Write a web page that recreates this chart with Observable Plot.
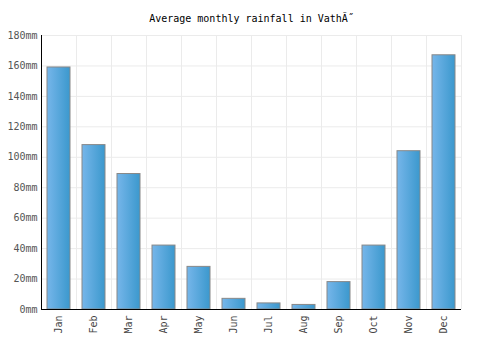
<!DOCTYPE html>
<html>
<head>
<meta charset="utf-8">
<script src="https://cdn.jsdelivr.net/npm/d3@7"></script>
<script src="https://cdn.jsdelivr.net/npm/@observablehq/plot@0.6"></script>
<style>
  html, body { margin: 0; padding: 0; background: #fff; }
  #chart svg { display: block; }
</style>
</head>
<body>
<div id="chart"></div>
<script>
const titleText = "Average monthly rainfall in VathÃ˝";
const months = ["Jan","Feb","Mar","Apr","May","Jun","Jul","Aug","Sep","Oct","Nov","Dec"];
const rainfall = [159, 108, 89, 42, 28, 7, 4, 3, 18, 42, 104, 167];
const yTicks = [0, 20, 40, 60, 80, 100, 120, 140, 160, 180];

const data = months.map((m, i) => ({month: m, value: rainfall[i]}));

const defs = () => {
  const g = d3.create("svg:defs");
  const lg = g.append("linearGradient").attr("id", "barGrad")
    .attr("x1", "0").attr("x2", "1").attr("y1", "0").attr("y2", "0");
  lg.append("stop").attr("offset", "0%").attr("stop-color", "#76b6ea");
  lg.append("stop").attr("offset", "100%").attr("stop-color", "#3b98cd");
  return g.node();
};

const chart = Plot.plot({
  width: 500,
  height: 350,
  marginLeft: 41,
  marginRight: 39,
  marginTop: 35,
  marginBottom: 41,
  style: {fontFamily: "'DejaVu Sans Mono', monospace", fontSize: "10px", background: "#fff"},
  x: {domain: months, paddingInner: 0.34, paddingOuter: 0.17, label: null},
  y: {domain: [0, 180], label: null},
  marks: [
    defs,
    Plot.gridY(yTicks, {stroke: "#ebebeb", strokeOpacity: 1}),
    Plot.gridX(months, {stroke: "#ebebeb", strokeOpacity: 1, dx: 17.5}),
    Plot.barY(data, {x: "month", y: "value", fill: "url(#barGrad)", stroke: "#888", strokeWidth: 1}),
    Plot.axisY(yTicks, {tickSize: 0, tickPadding: 4, tickFormat: d => d + "mm", fill: "#555", fontSize: 10}),
    Plot.axisX({tickSize: 0, tickRotate: -90, tickPadding: 6, fill: "#444", fontSize: 10}),
    Plot.ruleY([0], {stroke: "#000"}),
    Plot.ruleX([0], {x: () => months[0], dx: -17.5, stroke: "#000", y1: 0, y2: 180}),
    Plot.text([titleText], {frameAnchor: "top", lineAnchor: "middle", dy: -17, fontSize: 10, fill: "#000", text: d => d})
  ]
});
document.getElementById("chart").appendChild(chart);
</script>
</body>
</html>
